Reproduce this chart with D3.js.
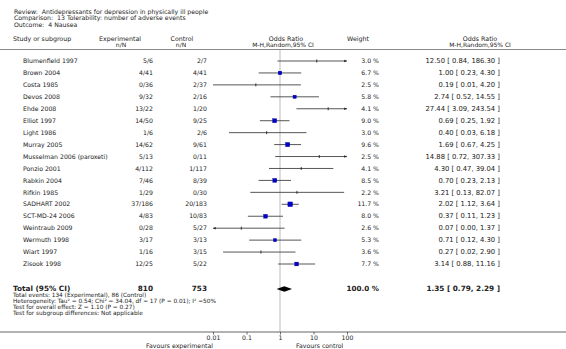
<!DOCTYPE html>
<html>
<head>
<meta charset="utf-8">
<script src="https://cdn.jsdelivr.net/npm/d3@7"></script>
<style>
  body { margin: 0; background: #fff; }
  text { font-family: "DejaVu Sans", Verdana, sans-serif; fill: #222; white-space: pre; }
</style>
</head>
<body>
<script>
// study rows
var studies = ["Blumenfield 1997", "Brown 2004", "Costa 1985", "Devos 2008", "Ehde 2008", "Elliot 1997",
  "Light 1986", "Murray 2005", "Musselman 2006 (paroxeti)", "Ponzio 2001", "Rabkin 2004", "Rifkin 1985",
  "SADHART 2002", "SCT-MD-24 2006", "Weintraub 2009", "Wermuth 1998", "Wiart 1997", "Zisook 1998"];
var expN = ["5/6", "4/41", "0/36", "9/32", "13/22", "14/50", "1/6", "14/62", "5/13", "4/112", "7/46", "1/29",
  "37/186", "4/83", "0/28", "3/17", "1/16", "12/25"];
var ctlN = ["2/7", "4/41", "2/37", "2/16", "1/20", "9/25", "2/6", "9/61", "0/11", "1/117", "8/39", "0/30",
  "20/183", "10/83", "5/27", "3/13", "3/15", "5/22"];
var weights = [3.0, 6.7, 2.5, 5.8, 4.1, 9.0, 3.0, 9.6, 2.5, 4.1, 8.5, 2.2, 11.7, 8.0, 2.6, 5.3, 3.6, 7.7];
var or = [12.50, 1.00, 0.19, 2.74, 27.44, 0.69, 0.40, 1.69, 14.88, 4.30, 0.70, 3.21, 2.02, 0.37, 0.07, 0.71, 0.27, 3.14];
var lo = [0.84, 0.23, 0.01, 0.52, 3.09, 0.25, 0.03, 0.67, 0.72, 0.47, 0.23, 0.13, 1.12, 0.11, 0.00, 0.12, 0.02, 0.88];
var hi = [186.30, 4.30, 4.20, 14.55, 243.54, 1.92, 6.18, 4.25, 307.33, 39.04, 2.13, 82.07, 3.64, 1.23, 1.37, 4.30, 2.90, 11.16];

var total = {label: "Total (95% CI)", exp: "810", ctl: "753", weight: "100.0 %", or: 1.35, lo: 0.79, hi: 2.29};
var titleLines = ["Review:  Antidepressants for depression in physically ill people",
  "Comparison:  13 Tolerability: number of adverse events",
  "Outcome:  4 Nausea"];
var footLines = ["Total events: 134 (Experimental), 86 (Control)",
  "Heterogeneity: Tau\u00b2 = 0.54; Chi\u00b2 = 34.04, df = 17 (P = 0.01); I\u00b2 =50%",
  "Test for overall effect: Z = 1.10 (P = 0.27)",
  "Test for subgroup differences: Not applicable"];
var ticks = [0.01, 0.1, 1, 10, 100];
var tickLabels = ["0.01", "0.1", "1", "10", "100"];

var W = 566, H = 349, fs = 6.2;
var svg = d3.select("body").append("svg").attr("width", W).attr("height", H);

var x = d3.scaleLog().domain([0.01, 100]).range([213, 347]);
var y = d3.scaleLinear().domain([0, 17]).range([61, 264]);
var sz = d3.scaleSqrt().domain([0, 12]).range([0, 4.8]);
var fmt = d3.format(".2f");

function txt(px, py, s, anchor, size, bold) {
  return svg.append("text").attr("x", px).attr("y", py).attr("text-anchor", anchor || "start")
    .attr("font-size", size || fs).attr("font-weight", bold ? "bold" : "normal").text(s);
}

// titles
titleLines.forEach(function(t, i) { txt(14, 14 + i * 6.3, t, "start", 6.2); });

// headers
txt(13, 40.5, "Study or subgroup", "start", 6.3);
txt(120, 40.5, "Experimental", "middle", 6.3);
txt(121, 46.5, "n/N", "middle", 6);
txt(182, 40.5, "Control", "middle", 6.3);
txt(181, 46.5, "n/N", "middle", 6);
txt(286, 40.5, "Odds Ratio", "middle", 6.3);
txt(283, 46.5, "M-H,Random,95% CI", "middle", 6);
txt(358, 40.5, "Weight", "middle", 6.3);
txt(480, 40.5, "Odds Ratio", "middle", 6.3);
txt(480, 46.5, "M-H,Random,95% CI", "middle", 6);

svg.append("line").attr("x1", 0).attr("x2", W).attr("y1", 49.5).attr("y2", 49.5)
  .attr("stroke", "#888").attr("stroke-width", 1.2);

// null line
svg.append("line").attr("x1", x(1)).attr("x2", x(1)).attr("y1", 50).attr("y2", 332)
  .attr("stroke", "#ddd").attr("stroke-width", 2);

// rows
var rows = svg.selectAll("g.row").data(studies).enter().append("g").attr("class", "row");
rows.append("text").attr("x", 23).attr("y", function(d, i) { return y(i) + 2.2; })
  .attr("font-size", fs).text(function(d) { return d; });
rows.append("text").attr("x", 153).attr("y", function(d, i) { return y(i) + 2.2; })
  .attr("text-anchor", "end").attr("font-size", fs).text(function(d, i) { return expN[i]; });
rows.append("text").attr("x", 207).attr("y", function(d, i) { return y(i) + 2.2; })
  .attr("text-anchor", "end").attr("font-size", fs).text(function(d, i) { return ctlN[i]; });
rows.append("text").attr("x", 379).attr("y", function(d, i) { return y(i) + 2.2; })
  .attr("text-anchor", "end").attr("font-size", fs).text(function(d, i) { return weights[i].toFixed(1) + " %"; });
rows.append("text").attr("x", 500).attr("y", function(d, i) { return y(i) + 2.2; })
  .attr("text-anchor", "end").attr("font-size", 6.8)
  .text(function(d, i) { return fmt(or[i]) + " [ " + fmt(lo[i]) + ", " + fmt(hi[i]) + " ]"; });

// CI lines, clipped to axis domain
function cx(v) { return x(Math.max(0.01, Math.min(100, v || 0.0001))); }
rows.append("line")
  .attr("x1", function(d, i) { return cx(lo[i]); })
  .attr("x2", function(d, i) { return cx(hi[i]); })
  .attr("y1", function(d, i) { return y(i); }).attr("y2", function(d, i) { return y(i); })
  .attr("stroke", "#444").attr("stroke-width", 0.9);

// arrows where the CI leaves the axis, then the point marks
rows.each(function(d, i) {
  var g = d3.select(this), yy = y(i);
  if (hi[i] > 100) {
    var e = x(100);
    g.append("path").attr("d", "M" + e + "," + yy + "L" + (e - 2.8) + "," + (yy - 1.3) + "L" + (e - 2.8) + "," + (yy + 1.3) + "Z").attr("fill", "#222");
  }
  if (lo[i] < 0.01) {
    var s = x(0.01);
    g.append("path").attr("d", "M" + s + "," + yy + "L" + (s + 2.8) + "," + (yy - 1.3) + "L" + (s + 2.8) + "," + (yy + 1.3) + "Z").attr("fill", "#222");
  }
  if (weights[i] >= 5) {
    var a = sz(weights[i]);
    g.append("rect").attr("x", x(or[i]) - a / 2).attr("y", yy - a / 2).attr("width", a).attr("height", a)
      .attr("fill", "#0000cc").attr("stroke", "#000080").attr("stroke-width", 0.3);
  } else {
    g.append("line").attr("x1", x(or[i])).attr("x2", x(or[i])).attr("y1", yy - 1.5).attr("y2", yy + 1.5)
      .attr("stroke", "#222").attr("stroke-width", 0.9);
  }
});

// total
var ty = 289;
txt(13, ty + 2.3, total.label, "start", 7.3, true);
txt(153, ty + 2.3, total.exp, "end", 7.3, true);
txt(207, ty + 2.3, total.ctl, "end", 7.3, true);
txt(379, ty + 2.3, total.weight, "end", 7.2, true);
txt(500, ty + 2.3, fmt(total.or) + " [ " + fmt(total.lo) + ", " + fmt(total.hi) + " ]", "end", 7.3, true);
svg.append("path")
  .attr("d", "M" + x(total.lo) + "," + ty + "L" + x(total.or) + "," + (ty - 2.7) + "L" + x(total.hi) + "," + ty +
    "L" + x(total.or) + "," + (ty + 2.7) + "Z")
  .attr("fill", "#000");

footLines.forEach(function(t, i) { txt(13, 297 + i * 5.9, t, "start", 5.8); });

// axis
svg.append("line").attr("x1", 0).attr("x2", W).attr("y1", 332).attr("y2", 332)
  .attr("stroke", "#666").attr("stroke-width", 1.2);
var ax = svg.append("g").attr("transform", "translate(0,332)")
  .call(d3.axisBottom(x).tickValues(ticks).tickFormat(function(d, i) { return tickLabels[i]; })
    .tickSize(2.5).tickPadding(1.5));
ax.select(".domain").remove();
ax.selectAll(".tick line").attr("stroke", "#444").attr("stroke-width", 0.8);
ax.selectAll(".tick text").attr("font-size", fs).attr("font-family", "DejaVu Sans, sans-serif").attr("fill", "#222");

txt(213, 348, "Favours experimental", "end", fs);
txt(296, 348, "Favours control", "start", fs);
</script>
</body>
</html>
